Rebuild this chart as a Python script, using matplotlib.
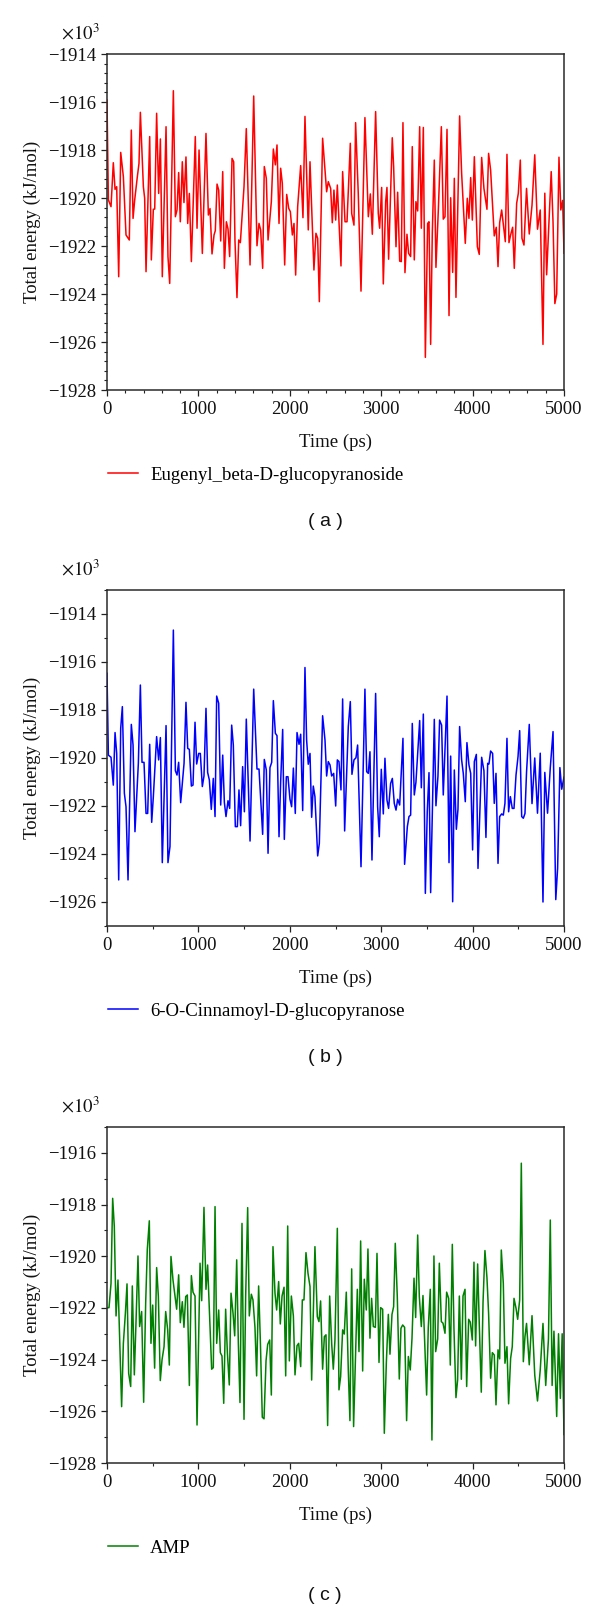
import matplotlib
matplotlib.use("Agg")
import matplotlib.pyplot as plt
from matplotlib.ticker import MultipleLocator
from matplotlib.lines import Line2D

plt.rcParams['font.family'] = ['Liberation Serif', 'DejaVu Serif']
plt.rcParams['mathtext.fontset'] = 'stix'

# ---------------- data ----------------
time_a = [0, 15, 44, 69, 88, 106, 128, 150, 179, 208, 244, 266, 285, 303, 332, 350, 365, 398, 412, 427,
          467, 485, 507, 522, 543, 565, 584, 605, 646, 667, 686, 726, 748, 766, 784, 802, 824, 842, 864,
          883, 901, 923, 966, 985, 1007, 1043, 1083, 1109, 1127, 1149, 1171, 1185, 1204, 1222, 1244, 1266,
          1284, 1306, 1324, 1342, 1368, 1386, 1400, 1422, 1441, 1459, 1499, 1524, 1565, 1605, 1641, 1663,
          1681, 1703, 1721, 1743, 1762, 1798, 1820, 1842, 1860, 1882, 1900, 1918, 1944, 1966, 1988, 2006,
          2028, 2046, 2064, 2086, 2119, 2144, 2166, 2202, 2221, 2264, 2286, 2305, 2323, 2359, 2403, 2421,
          2447, 2465, 2483, 2502, 2520, 2560, 2578, 2604, 2626, 2662, 2677, 2702, 2720, 2749, 2779, 2822,
          2859, 2881, 2903, 2939, 2968, 2983, 3005, 3023, 3049, 3063, 3081, 3121, 3136, 3162, 3180, 3202,
          3220, 3238, 3260, 3282, 3300, 3322, 3340, 3362, 3380, 3399, 3421, 3439, 3461, 3483, 3508, 3523,
          3541, 3559, 3581, 3599, 3625, 3658, 3679, 3698, 3720, 3742, 3760, 3782, 3800, 3818, 3858, 3880,
          3920, 3942, 3960, 3979, 3997, 4019, 4052, 4073, 4099, 4124, 4157, 4175, 4197, 4237, 4259, 4278,
          4296, 4318, 4358, 4376, 4398, 4416, 4438, 4456, 4482, 4500, 4522, 4540, 4562, 4590, 4620, 4650,
          4680, 4710, 4740, 4770, 4790, 4810, 4830, 4860, 4880, 4900, 4920, 4945, 4965, 4985, 5000]
energy_a = [-1915.92, -1920.08, -1920.36, -1918.53, -1919.64, -1919.53, -1923.28, -1918.10, -1919.11,
            -1921.54, -1921.75, -1917.17, -1920.85, -1920.08, -1919.11, -1918.56, -1916.43, -1919.53,
            -1920.01, -1923.07, -1917.44, -1922.58, -1920.47, -1920.46, -1916.47, -1919.81, -1917.54,
            -1923.28, -1917.03, -1922.44, -1923.56, -1915.53, -1920.78, -1920.50, -1918.94, -1920.99,
            -1918.49, -1920.19, -1918.29, -1921.06, -1919.81, -1922.65, -1917.44, -1921.26, -1918.00,
            -1922.31, -1917.31, -1920.71, -1920.44, -1922.33, -1921.54, -1921.36, -1919.42, -1919.67,
            -1921.79, -1918.90, -1922.93, -1920.99, -1921.29, -1922.44, -1918.35, -1918.49, -1921.75,
            -1924.15, -1921.75, -1921.86, -1919.53, -1917.11, -1922.79, -1915.75, -1921.99, -1921.06,
            -1921.33, -1922.93, -1918.69, -1919.18, -1921.75, -1920.15, -1917.96, -1918.62, -1917.79,
            -1921.06, -1918.76, -1919.39, -1922.79, -1919.85, -1920.43, -1920.57, -1921.54, -1921.06,
            -1923.21, -1920.36, -1918.65, -1920.82, -1916.60, -1921.33, -1918.49, -1923.00, -1921.47,
            -1921.68, -1924.32, -1917.51, -1919.74, -1919.32, -1919.60, -1921.03, -1919.67, -1920.92,
            -1919.46, -1922.83, -1918.90, -1920.99, -1920.99, -1917.72, -1920.64, -1921.13, -1916.86,
            -1919.81, -1923.88, -1916.65, -1920.78, -1919.83, -1921.51, -1916.40, -1920.64, -1921.26,
            -1919.56, -1923.58, -1920.15, -1919.56, -1922.55, -1917.49, -1918.69, -1922.03, -1919.76,
            -1922.63, -1922.65, -1916.86, -1923.11, -1921.51, -1922.31, -1922.44, -1917.86, -1922.58,
            -1920.15, -1920.54, -1917.03, -1921.26, -1917.06, -1926.64, -1921.06, -1920.99, -1926.10,
            -1921.47, -1918.42, -1922.89, -1920.50, -1917.03, -1920.88, -1920.78, -1917.14, -1924.90,
            -1919.99, -1923.10, -1919.18, -1924.14, -1916.58, -1918.97, -1921.89, -1920.01, -1920.85,
            -1919.15, -1920.92, -1918.28, -1922.03, -1922.35, -1918.31, -1919.60, -1920.47, -1918.14,
            -1918.83, -1921.58, -1921.22, -1922.86, -1921.03, -1920.50, -1921.82, -1918.18, -1921.86,
            -1921.54, -1921.22, -1922.93, -1920.22, -1919.81, -1918.42, -1921.68, -1921.96, -1919.60,
            -1921.50, -1920.30, -1918.20, -1921.30, -1920.50, -1926.10, -1919.80, -1923.20, -1921.50,
            -1918.90, -1921.00, -1924.40, -1924.00, -1918.30, -1920.50, -1920.10, -1922.30]

time_b = [0, 15, 44, 69, 88, 106, 128, 150, 168, 190, 208, 230, 266, 285, 306, 343, 365, 383, 405, 427,
          445, 467, 489, 507, 543, 565, 584, 605, 646, 667, 689, 726, 748, 766, 784, 806, 843, 864, 883,
          901, 923, 941, 963, 981, 1003, 1021, 1043, 1061, 1083, 1101, 1120, 1141, 1163, 1182, 1200, 1222,
          1244, 1266, 1284, 1302, 1324, 1342, 1364, 1382, 1404, 1426, 1444, 1462, 1484, 1503, 1524, 1565,
          1605, 1641, 1663, 1703, 1721, 1743, 1762, 1783, 1802, 1820, 1842, 1860, 1882, 1900, 1922, 1940,
          1962, 1980, 2002, 2020, 2039, 2060, 2079, 2101, 2119, 2141, 2166, 2184, 2202, 2221, 2239, 2257,
          2275, 2305, 2323, 2359, 2385, 2403, 2421, 2440, 2458, 2480, 2502, 2520, 2538, 2560, 2578, 2600,
          2640, 2662, 2680, 2702, 2724, 2742, 2779, 2822, 2841, 2859, 2877, 2899, 2939, 2961, 2979, 3001,
          3023, 3041, 3063, 3081, 3103, 3122, 3143, 3162, 3180, 3202, 3238, 3256, 3286, 3304, 3322, 3340,
          3362, 3380, 3421, 3439, 3461, 3483, 3504, 3523, 3541, 3581, 3599, 3621, 3639, 3661, 3679, 3720,
          3742, 3760, 3782, 3800, 3822, 3840, 3858, 3880, 3898, 3920, 3938, 3960, 3979, 4000, 4019, 4041,
          4059, 4099, 4124, 4146, 4165, 4179, 4197, 4219, 4237, 4256, 4278, 4296, 4318, 4336, 4354, 4376,
          4394, 4413, 4434, 4453, 4475, 4497, 4515, 4537, 4555, 4573, 4590, 4620, 4650, 4680, 4710, 4740,
          4770, 4790, 4820, 4850, 4880, 4910, 4930, 4955, 4975, 5000]
energy_b = [-1916.47, -1919.88, -1919.97, -1921.13, -1918.94, -1919.81, -1925.08, -1918.76, -1917.86,
            -1921.47, -1922.03, -1925.08, -1918.60, -1919.46, -1923.07, -1920.22, -1916.96, -1920.18,
            -1920.18, -1922.31, -1922.31, -1919.43, -1922.68, -1921.61, -1919.11, -1920.08, -1919.15,
            -1924.36, -1918.65, -1924.36, -1923.69, -1914.67, -1920.53, -1920.71, -1920.18, -1921.86,
            -1920.22, -1917.68, -1919.60, -1919.64, -1921.17, -1921.13, -1918.51, -1920.25, -1919.81,
            -1919.81, -1921.19, -1920.75, -1917.93, -1920.60, -1920.92, -1922.14, -1920.85, -1922.44,
            -1917.42, -1917.72, -1921.96, -1919.88, -1921.85, -1922.44, -1921.78, -1922.10, -1918.63,
            -1919.46, -1922.86, -1922.86, -1921.33, -1922.82, -1920.36, -1922.24, -1918.38, -1923.46,
            -1917.13, -1920.46, -1920.46, -1923.18, -1920.06, -1920.50, -1923.97, -1920.40, -1920.18,
            -1917.61, -1918.97, -1919.07, -1923.28, -1920.99, -1918.81, -1923.39, -1920.78, -1920.78,
            -1921.72, -1922.03, -1920.42, -1922.31, -1918.94, -1919.43, -1919.01, -1922.19, -1916.23,
            -1919.25, -1920.26, -1919.81, -1922.47, -1921.17, -1921.61, -1924.08, -1923.56, -1918.24,
            -1919.25, -1920.75, -1920.15, -1920.29, -1920.75, -1920.64, -1922.00, -1920.08, -1920.15,
            -1921.33, -1917.54, -1923.04, -1918.69, -1917.65, -1920.68, -1920.08, -1919.99, -1919.46,
            -1924.53, -1917.13, -1920.57, -1920.64, -1919.74, -1924.25, -1917.31, -1922.03, -1923.28,
            -1920.47, -1922.33, -1920.01, -1921.75, -1922.10, -1921.06, -1920.85, -1921.89, -1922.17,
            -1921.72, -1921.96, -1919.18, -1924.43, -1922.86, -1922.44, -1922.38, -1918.56, -1921.54,
            -1921.01, -1918.44, -1921.24, -1918.17, -1925.64, -1922.24, -1920.61, -1925.61, -1918.39,
            -1921.99, -1920.75, -1918.42, -1918.63, -1921.54, -1917.42, -1924.36, -1919.92, -1925.99,
            -1920.50, -1922.97, -1922.13, -1918.69, -1920.08, -1920.64, -1921.82, -1919.36, -1920.29,
            -1920.64, -1923.83, -1920.15, -1919.85, -1924.60, -1919.97, -1920.53, -1923.31, -1920.22,
            -1920.25, -1919.71, -1919.81, -1921.89, -1920.64, -1924.39, -1922.44, -1922.33, -1922.38,
            -1921.89, -1919.18, -1922.24, -1921.61, -1922.10, -1922.10, -1920.71, -1919.94, -1918.86,
            -1922.44, -1922.51, -1922.31, -1920.60, -1918.60, -1921.90, -1920.00, -1922.30, -1919.80,
            -1926.00, -1920.60, -1922.30, -1920.40, -1918.90, -1925.90, -1924.60, -1920.40, -1921.30,
            -1920.80]

time_c = [4, 22, 44, 62, 80, 99, 120, 160, 179, 201, 219, 237, 259, 277, 299, 317, 339, 357, 379, 401,
          423, 441, 463, 481, 500, 521, 543, 562, 583, 602, 624, 642, 664, 682, 700, 722, 744, 762, 784,
          802, 824, 842, 861, 879, 901, 923, 941, 963, 985, 1018, 1036, 1061, 1083, 1101, 1145, 1163, 1182,
          1200, 1222, 1240, 1258, 1277, 1298, 1317, 1338, 1357, 1379, 1397, 1419, 1437, 1455, 1477, 1499,
          1517, 1539, 1557, 1579, 1597, 1619, 1637, 1659, 1678, 1699, 1718, 1740, 1758, 1780, 1798, 1816,
          1838, 1856, 1878, 1896, 1915, 1937, 1955, 1977, 1995, 2017, 2039, 2057, 2079, 2097, 2119, 2137,
          2155, 2177, 2199, 2221, 2239, 2275, 2301, 2319, 2337, 2359, 2378, 2396, 2414, 2436, 2458, 2476,
          2494, 2520, 2538, 2556, 2578, 2596, 2618, 2640, 2658, 2677, 2698, 2739, 2757, 2775, 2797, 2815,
          2837, 2855, 2877, 2895, 2914, 2936, 2954, 2976, 2994, 3016, 3034, 3056, 3078, 3096, 3118, 3136,
          3154, 3176, 3198, 3216, 3235, 3256, 3278, 3297, 3318, 3337, 3359, 3377, 3399, 3417, 3439, 3457,
          3475, 3497, 3515, 3537, 3555, 3577, 3596, 3618, 3636, 3658, 3676, 3698, 3716, 3738, 3756, 3778,
          3796, 3818, 3836, 3855, 3877, 3895, 3917, 3935, 3957, 3975, 3997, 4015, 4033, 4055, 4073, 4095,
          4114, 4135, 4157, 4175, 4197, 4216, 4237, 4256, 4278, 4296, 4314, 4336, 4354, 4376, 4394, 4416,
          4434, 4453, 4475, 4493, 4515, 4533, 4555, 4573, 4590, 4620, 4650, 4680, 4710, 4740, 4770, 4800,
          4830, 4850, 4870, 4890, 4920, 4940, 4960, 4980, 5000]
energy_c = [-1921.99, -1921.99, -1921.05, -1917.76, -1918.85, -1922.31, -1920.92, -1925.82, -1923.37,
            -1922.21, -1921.07, -1924.53, -1925.04, -1921.15, -1924.59, -1922.59, -1919.99, -1922.72,
            -1922.14, -1925.65, -1921.82, -1919.73, -1918.63, -1923.37, -1921.89, -1924.33, -1920.44,
            -1921.56, -1924.81, -1924.01, -1923.50, -1922.14, -1922.85, -1924.21, -1920.01, -1920.92,
            -1921.56, -1922.05, -1920.72, -1922.57, -1921.76, -1922.75, -1921.56, -1921.50, -1925.00,
            -1920.75, -1921.39, -1921.54, -1926.53, -1920.27, -1921.72, -1918.11, -1921.28, -1920.34,
            -1924.37, -1924.31, -1918.08, -1923.37, -1922.08, -1923.73, -1923.86, -1925.69, -1922.05,
            -1923.73, -1924.98, -1921.43, -1922.21, -1923.08, -1920.14, -1923.37, -1925.66, -1918.73,
            -1926.31, -1921.56, -1918.12, -1922.31, -1921.47, -1921.69, -1922.76, -1924.63, -1921.15,
            -1923.30, -1926.23, -1926.29, -1924.04, -1923.41, -1923.24, -1925.37, -1919.63, -1921.43,
            -1922.08, -1920.98, -1922.62, -1921.54, -1921.20, -1924.63, -1918.83, -1924.05, -1921.54,
            -1922.31, -1924.59, -1923.46, -1923.37, -1924.27, -1921.69, -1921.69, -1919.86, -1920.66,
            -1921.17, -1924.79, -1919.63, -1922.34, -1922.53, -1921.73, -1924.37, -1923.11, -1923.04,
            -1926.55, -1921.54, -1923.37, -1924.37, -1923.24, -1918.92, -1925.17, -1924.66, -1922.85,
            -1923.01, -1921.39, -1924.40, -1926.36, -1920.49, -1926.59, -1921.28, -1923.69, -1919.41,
            -1924.44, -1920.89, -1922.08, -1919.72, -1923.17, -1921.63, -1922.72, -1922.75, -1919.89,
            -1924.11, -1921.99, -1922.05, -1926.85, -1924.14, -1922.25, -1923.79, -1922.25, -1921.95,
            -1919.50, -1921.56, -1924.75, -1922.79, -1922.66, -1922.75, -1926.36, -1923.88, -1924.40,
            -1923.17, -1920.85, -1922.37, -1919.18, -1921.56, -1922.72, -1921.52, -1923.24, -1925.37,
            -1922.76, -1921.28, -1927.11, -1919.99, -1923.69, -1923.20, -1920.27, -1922.53, -1922.59,
            -1922.98, -1921.39, -1921.63, -1924.21, -1919.54, -1922.79, -1925.47, -1924.79, -1921.54,
            -1924.76, -1921.54, -1921.28, -1925.04, -1922.44, -1922.55, -1923.24, -1920.23, -1923.47,
            -1920.30, -1922.62, -1925.26, -1921.79, -1919.78, -1920.83, -1922.21, -1924.72, -1923.73,
            -1923.82, -1925.75, -1923.62, -1923.97, -1919.76, -1921.05, -1924.14, -1923.50, -1925.71,
            -1923.95, -1923.50, -1921.63, -1922.01, -1922.44, -1921.69, -1916.40, -1924.08, -1923.11,
            -1922.60, -1924.20, -1922.30, -1924.60, -1925.60, -1924.40, -1922.60, -1925.00, -1923.20,
            -1918.60, -1925.00, -1922.90, -1926.20, -1923.00, -1925.50, -1923.00, -1926.90]

series_names = ["Eugenyl_beta-D-glucopyranoside", "6-O-Cinnamoyl-D-glucopyranose", "AMP"]
series_colors = ["#ff0000", "#0000ff", "#008000"]
panel_tags = ["( a )", "( b )", "( c )"]
y_limits = [(-1928, -1914), (-1927, -1913), (-1928, -1915)]
y_minor = [0.4, 1, 1]
x_minor = [200, 500, 500]
x_label = "Time (ps)"
y_label = "Total energy (kJ/mol)"

# ---------------- layout ----------------
W, H = 600, 1611
fig = plt.figure(figsize=(W / 100, H / 100), dpi=100)
ax_left, ax_w, ax_h = 107, 457, 336
tops = [54, 590, 1127]

series = [(time_a, energy_a), (time_b, energy_b), (time_c, energy_c)]
FS = 13.5

for i, (tt, ee) in enumerate(series):
    top = tops[i]
    bottom = top + ax_h
    ax = fig.add_axes([ax_left / W, 1 - bottom / H, ax_w / W, ax_h / H])
    ax.plot(tt, ee, color=series_colors[i], lw=1.1)
    ax.set_xlim(0, 5000)
    ax.set_ylim(*y_limits[i])
    ax.xaxis.set_major_locator(MultipleLocator(1000))
    ax.xaxis.set_minor_locator(MultipleLocator(x_minor[i]))
    ax.yaxis.set_major_locator(MultipleLocator(2))
    ax.yaxis.set_minor_locator(MultipleLocator(y_minor[i]))
    ax.tick_params(which='major', direction='out', length=4.5, width=0.9, labelsize=FS, pad=3.5,
                   colors='#222222', labelcolor='#111111')
    ax.tick_params(which='minor', direction='out', length=2.5, width=0.8, colors='#222222')
    for s in ax.spines.values():
        s.set_linewidth(1.1)
        s.set_color('#2a2a2a')

    fig.text(100 / W, 1 - (top - 21) / H, r'$\times10^{3}$', ha='right', va='center',
             fontsize=FS, color='#111111')
    fig.text(32 / W, 1 - (top + ax_h / 2) / H, y_label, rotation=90, ha='center', va='center',
             fontsize=FS, color='#111111')
    fig.text((ax_left + ax_w / 2) / W, 1 - (bottom + 52) / H, x_label, ha='center', va='center',
             fontsize=FS, color='#111111')
    handle = Line2D([], [], color=series_colors[i], lw=1.1)
    fig.legend([handle], [series_names[i]], loc='center left',
               bbox_to_anchor=(108 / W, 1 - (bottom + 85) / H), frameon=False,
               fontsize=FS, handlelength=1.6, handletextpad=0.65, borderpad=0, borderaxespad=0)
    fig.text(325 / W, 1 - (bottom + 132) / H, panel_tags[i], ha='center', va='center',
             fontsize=14, family=['Liberation Sans', 'DejaVu Sans'], color='#111111')

fig.savefig("out.png", dpi=100)
